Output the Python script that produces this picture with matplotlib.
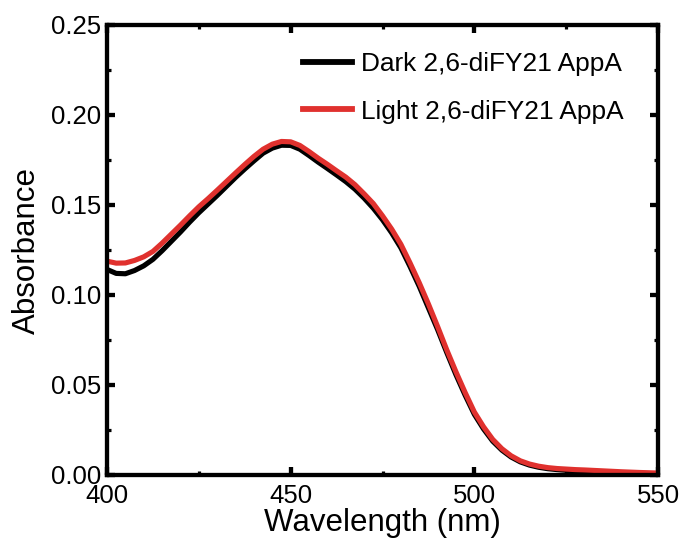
import matplotlib
matplotlib.use("Agg")
import matplotlib.pyplot as plt
from matplotlib.ticker import MultipleLocator, FormatStrFormatter

plt.rcParams['font.family'] = ['Liberation Sans', 'DejaVu Sans']

# UV-vis absorption spectra (wavelength in nm)
wavelength = [400, 402.5, 405, 407.5, 410, 412.5, 415, 417.5, 420, 422.5, 425,
              427.5, 430, 432.5, 435, 437.5, 440, 442.5, 445, 447.5, 450, 452.5,
              455, 457.5, 460, 462.5, 465, 467.5, 470, 472.5, 475, 477.5, 480,
              482.5, 485, 487.5, 490, 492.5, 495, 497.5, 500, 502.5, 505, 507.5,
              510, 512.5, 515, 517.5, 520, 522.5, 525, 527.5, 530, 535, 540,
              545, 550]

dark = [0.1142, 0.1120, 0.1118, 0.1136, 0.1162, 0.1198, 0.1246, 0.1298, 0.1350,
        0.1405, 0.1457, 0.1505, 0.1553, 0.1603, 0.1653, 0.1700, 0.1745, 0.1788,
        0.1816, 0.1832, 0.1831, 0.1810, 0.1775, 0.1738, 0.1703, 0.1667, 0.1630,
        0.1588, 0.1538, 0.1482, 0.1418, 0.1345, 0.1262, 0.1158, 0.1048, 0.0928,
        0.0808, 0.0680, 0.0557, 0.0443, 0.0337, 0.0256, 0.0188, 0.0138, 0.0100,
        0.0073, 0.0055, 0.0043, 0.0035, 0.0030, 0.0026, 0.0023, 0.0021, 0.0016,
        0.0012, 0.0009, 0.0007]

light = [0.1188, 0.1177, 0.1178, 0.1192, 0.1212, 0.1242, 0.1288, 0.1338, 0.1388,
         0.1440, 0.1490, 0.1535, 0.1582, 0.1630, 0.1678, 0.1725, 0.1770, 0.1810,
         0.1838, 0.1853, 0.1851, 0.1831, 0.1797, 0.1760, 0.1726, 0.1690, 0.1655,
         0.1613, 0.1562, 0.1508, 0.1440, 0.1366, 0.1282, 0.1178, 0.1068, 0.0950,
         0.0825, 0.0695, 0.0573, 0.0458, 0.0350, 0.0268, 0.0198, 0.0146, 0.0107,
         0.0079, 0.0061, 0.0049, 0.0041, 0.0036, 0.0033, 0.0030, 0.0028, 0.0023,
         0.0018, 0.0014, 0.0011]

labels = ["Dark 2,6-diFY21 AppA", "Light 2,6-diFY21 AppA"]
colors = ["#000000", "#e0312e"]

fig = plt.figure(figsize=(6.84, 5.44), dpi=100)
ax = fig.add_axes([107 / 684, 69 / 544, 551 / 684, 450 / 544])

ax.plot(wavelength, dark, color=colors[0], lw=3.7, label=labels[0],
        solid_joinstyle='round')
ax.plot(wavelength, light, color=colors[1], lw=3.7, label=labels[1],
        solid_joinstyle='round')

ax.set_xlim(400, 550)
ax.set_ylim(0, 0.25)
ax.xaxis.set_major_locator(MultipleLocator(50))
ax.xaxis.set_minor_locator(MultipleLocator(25))
ax.yaxis.set_major_locator(MultipleLocator(0.05))
ax.yaxis.set_minor_locator(MultipleLocator(0.025))
ax.yaxis.set_major_formatter(FormatStrFormatter('%.2f'))

for s in ax.spines.values():
    s.set_linewidth(3.1)
ax.tick_params(which='both', direction='in', top=True, right=True,
               labelsize=18.5)
ax.tick_params(axis='x', which='both', pad=6.5)
ax.tick_params(axis='y', which='both', pad=4.5)
ax.tick_params(which='major', length=5.5, width=3.1)
ax.tick_params(which='minor', length=3, width=2.3)

ax.set_xlabel("Wavelength (nm)", fontsize=22.5, labelpad=0)
ax.set_ylabel("Absorbance", fontsize=22.5, labelpad=6)

leg = ax.legend(loc='upper left', bbox_to_anchor=(303 / 684, 1 - 52 / 544),
                bbox_transform=fig.transFigure, frameon=False, fontsize=18.9,
                handlelength=1.85, handletextpad=0.35, labelspacing=0.9,
                borderpad=0, borderaxespad=0)
for line in leg.get_lines():
    line.set_linewidth(4.2)

fig.savefig("out.png", dpi=100)
